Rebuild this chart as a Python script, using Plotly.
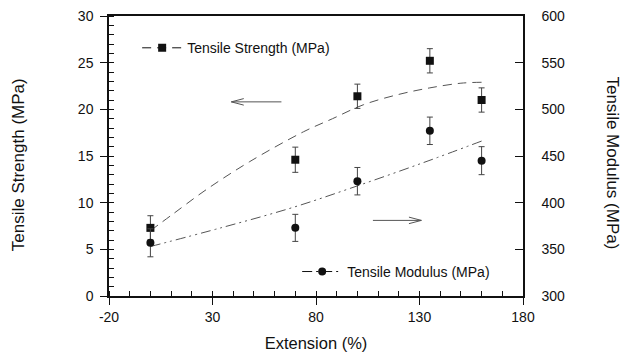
import plotly.graph_objects as go

# ---- data ----
extension = [0, 70, 100, 135, 160]
strength = [7.3, 14.6, 21.4, 25.2, 21.0]
strength_err = [1.3, 1.35, 1.3, 1.3, 1.3]
modulus = [357, 373, 423, 477, 445]
modulus_err = [15, 14.5, 14.7, 14.7, 15]

strength_fit_x = [0, 11, 27, 48, 74, 88, 103, 120, 135, 150, 160]
strength_fit_y = [7.0, 8.8, 11.4, 14.4, 17.6, 19.0, 20.5, 21.6, 22.3, 22.8, 22.9]
modulus_fit_x = [0, 34, 69, 100, 132, 160]
modulus_fit_y = [353, 373, 395, 418, 443, 466]

x_ticks = [-20, 30, 80, 130, 180]
x_ticktext = [str(v) for v in x_ticks]

FONT = "Liberation Sans, Arial, sans-serif"
INK = "#111111"
GRAY = "#555555"

fig = go.Figure()

# fit curves
fig.add_trace(go.Scatter(x=strength_fit_x, y=strength_fit_y, mode="lines",
                         line=dict(color=GRAY, width=1, dash="9px,6px", shape="spline"),
                         showlegend=False, yaxis="y"))
fig.add_trace(go.Scatter(x=modulus_fit_x, y=modulus_fit_y, mode="lines",
                         line=dict(color=GRAY, width=1, dash="10px,4px,2px,4px,2px,4px", shape="spline"),
                         showlegend=False, yaxis="y2"))

# points
fig.add_trace(go.Scatter(x=extension, y=strength, mode="markers",
                         marker=dict(symbol="square", size=8, color=INK),
                         error_y=dict(type="data", array=strength_err, color="#444444", thickness=1, width=3),
                         showlegend=False, yaxis="y"))
fig.add_trace(go.Scatter(x=extension, y=modulus, mode="markers",
                         marker=dict(symbol="circle", size=8, color=INK),
                         error_y=dict(type="data", array=modulus_err, color="#444444", thickness=1, width=3),
                         showlegend=False, yaxis="y2"))

# legend-only entries
fig.add_trace(go.Scatter(x=[None], y=[None], mode="lines+markers", name="Tensile Strength (MPa)",
                         line=dict(color=INK, width=1, dash="9px,6px"),
                         marker=dict(symbol="square", size=8, color=INK), legend="legend"))
fig.add_trace(go.Scatter(x=[None], y=[None], mode="lines+markers", name="Tensile Modulus (MPa)",
                         line=dict(color=INK, width=1, dash="10px,4px,2px,4px"),
                         marker=dict(symbol="circle", size=8, color=INK), legend="legend2", yaxis="y2"))

# arrows (open heads)
def arrow(x0, x1, y, yref, hx, hy):
    d = 1 if x1 > x0 else -1
    fig.add_shape(type="line", x0=x0, x1=x1, y0=y, y1=y, xref="x", yref=yref,
                  line=dict(color=GRAY, width=1))
    fig.add_shape(type="path", xref="x", yref=yref,
                  path=f"M {x1 - d*hx},{y + hy} L {x1},{y} L {x1 - d*hx},{y - hy}",
                  line=dict(color=GRAY, width=1))

arrow(63.3, 39.1, 20.8, "y", 6, 0.35)
arrow(107.5, 130.9, 381, "y2", 6, 3.5)

fig.update_layout(
    width=623, height=354,
    margin=dict(l=109, r=100, t=16, b=58, autoexpand=False),
    paper_bgcolor="white", plot_bgcolor="white",
    font=dict(family=FONT, size=14, color=INK),
    xaxis=dict(range=[-20, 180], tickvals=x_ticks, ticktext=x_ticktext, ticks="outside", ticklen=7,
               tickcolor=INK, linecolor=INK, linewidth=1.5, showline=True, mirror=True,
               showgrid=False, zeroline=False, automargin=False,
               minor=dict(ticks="inside", dtick=10, tick0=-20, ticklen=5, tickcolor=INK),
               title=dict(text="Extension (%)", font=dict(size=16.5), standoff=14)),
    yaxis=dict(range=[0, 30], dtick=5, ticks="outside", ticklen=7, tickcolor=INK,
               linecolor=INK, linewidth=1.5, showline=True, showgrid=False, zeroline=False,
               automargin=False, ticklabelstandoff=4,
               minor=dict(ticks="inside", dtick=1, ticklen=5, tickcolor=INK)),
    yaxis2=dict(range=[300, 600], dtick=50, overlaying="y", side="right", ticks="inside",
                ticklen=8, tickcolor=INK, linecolor=INK, linewidth=1.5, showline=True,
                showgrid=False, zeroline=False, ticklabelstandoff=14, automargin=False),
    legend=dict(x=0.068, y=0.885, xanchor="left", yanchor="middle", bgcolor="rgba(0,0,0,0)",
                font=dict(size=14), itemwidth=40),
    legend2=dict(x=0.4545, y=0.086, xanchor="left", yanchor="middle", bgcolor="rgba(0,0,0,0)",
                 font=dict(size=14), itemwidth=40),
    annotations=[
        dict(text="Tensile Strength (MPa)", xref="paper", yref="paper", x=(18 - 109) / 414, y=0.467,
             textangle=-90, showarrow=False, font=dict(size=17), xanchor="center", yanchor="middle"),
        dict(text="Tensile Modulus (MPa)", xref="paper", yref="paper", x=(613 - 109) / 414, y=0.477,
             textangle=90, showarrow=False, font=dict(size=17), xanchor="center", yanchor="middle"),
    ],
)

fig.write_html("out.html", config={"displayModeBar": False},
               post_script="document.body.style.margin='0';")
